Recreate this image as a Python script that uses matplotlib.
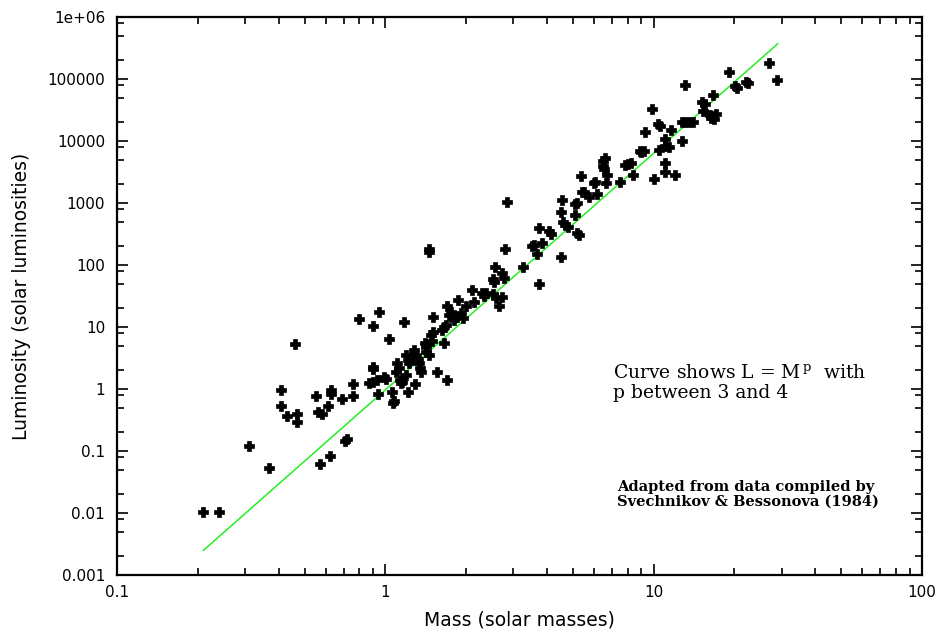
import matplotlib
matplotlib.use("Agg")
import matplotlib.pyplot as plt
from matplotlib.ticker import LogLocator, FixedLocator, FixedFormatter, NullFormatter

plt.rcParams["mathtext.fontset"] = "dejavuserif"

# Star data (solar units)
mass = [0.21, 0.24, 0.31, 0.37, 0.41, 0.41, 0.43, 0.47, 0.47, 0.46,
        0.55, 0.56, 0.58, 0.57, 0.62, 0.61, 0.63, 0.63, 0.69, 0.71,
        0.72, 0.76, 0.76, 0.80, 0.90, 0.95, 1.035, 1.17, 0.87, 0.90,
        0.90, 0.90, 0.93, 0.94, 0.99, 1.01, 1.06, 1.07, 1.08, 1.11,
        1.12, 1.10, 1.13, 1.15, 1.14, 1.21, 1.19, 1.21, 1.23, 1.19,
        1.25, 1.28, 1.30, 1.32, 1.29, 1.34, 1.35, 1.36, 1.40, 1.42,
        1.45, 1.42, 1.48, 1.50, 1.49, 1.51, 1.56, 1.70, 1.63, 1.66,
        1.68, 1.66, 1.70, 1.73, 1.75, 1.80, 1.83, 1.86, 1.91, 1.94,
        1.99, 2.10, 2.14, 2.30, 2.33, 2.37, 2.51, 2.54, 2.58, 2.65,
        2.73, 1.45, 1.46, 2.56, 2.52, 2.73, 2.77, 2.79, 2.85, 3.26,
        3.53, 3.58, 3.68, 3.73, 3.82, 3.73, 4.09, 4.14, 4.52, 4.52,
        4.55, 4.60, 4.68, 4.80, 5.11, 5.11, 5.19, 5.26, 5.19, 5.38,
        5.40, 5.50, 5.73, 5.98, 6.07, 6.15, 6.48, 6.52, 6.50, 6.60,
        6.70, 6.63, 7.52, 7.83, 8.0, 8.2, 8.35, 8.9, 9.0, 9.2,
        9.3, 9.9, 10.0, 10.4, 10.55, 11.0, 11.0, 11.0, 11.0, 10.5,
        11.6, 11.4, 12.0, 12.7, 12.7, 13.1, 13.6, 14.0, 13.1, 15.2,
        15.5, 15.3, 16.6, 16.2, 16.5, 16.8, 17.0, 16.4, 19.1, 20.1,
        20.4, 22.1, 22.4, 26.8, 28.8]
luminosity = [0.0103, 0.0103, 0.12, 0.053, 0.96, 0.54, 0.37, 0.40, 0.29, 5.3,
              0.76, 0.43, 0.39, 0.062, 0.083, 0.53, 0.95, 0.84, 0.70, 0.145,
              0.155, 1.2, 0.78, 13.3, 10.4, 17.7, 6.3, 12.2, 1.25, 1.31,
              2.29, 2.07, 1.42, 0.84, 1.58, 1.43, 0.90, 0.60, 0.63, 2.6,
              2.15, 1.9, 1.40, 1.31, 1.24, 0.90, 3.6, 2.94, 2.65, 1.68,
              3.3, 4.3, 3.5, 3.0, 1.2, 2.65, 2.15, 1.9, 5.45, 4.8,
              3.5, 4.0, 7.4, 8.4, 5.95, 14.7, 1.9, 1.42, 8.9, 10.1,
              10.8, 5.6, 21.5, 15.6, 17.6, 13.0, 14.7, 27.0, 16.6, 13.8,
              21.8, 40.0, 25.6, 35.0, 31.6, 35.0, 34.0, 54.0, 29.0, 21.8,
              30.0, 160.0, 178.0, 92.0, 59.0, 73.0, 61.0, 178.0, 1050.0, 92.0,
              200.0, 210.0, 150.0, 400.0, 225.0, 49.0, 360.0, 315.0, 133.0, 720.0,
              1120.0, 500.0, 450.0, 415.0, 640.0, 970.0, 1000.0, 310.0, 325.0, 2700.0,
              1520.0, 1480.0, 1250.0, 2100.0, 2200.0, 1420.0, 3900.0, 3600.0, 4800.0, 5300.0,
              2800.0, 2100.0, 2200.0, 4100.0, 4300.0, 4350.0, 2800.0, 7000.0, 6700.0, 7000.0,
              13800.0, 32500.0, 2400.0, 19000.0, 17300.0, 10600.0, 8200.0, 4400.0, 3200.0, 7200.0,
              15300.0, 8000.0, 2800.0, 10100.0, 20000.0, 20500.0, 20000.0, 20500.0, 80000.0, 43000.0,
              40000.0, 31000.0, 55000.0, 26000.0, 25000.0, 23000.0, 27000.0, 23500.0, 128000.0, 77000.0,
              72000.0, 90000.0, 86000.0, 183000.0, 98000.0]

# Power-law curve endpoints
curve_mass = [0.21, 29.0]
curve_lum = [0.0025, 370000.0]

x_ticks = [0.1, 1, 10, 100]
x_tick_labels = ["0.1", "1", "10", "100"]
y_ticks = [0.001, 0.01, 0.1, 1, 10, 100, 1000, 10000, 100000, 1000000]
y_tick_labels = ["0.001", "0.01", "0.1", "1", "10", "100", "1000", "10000", "100000", "1e+06"]

fig = plt.figure(figsize=(9.35, 6.32), dpi=100)
ax = fig.add_axes([117/935, 57/632, 805/935, 558/632])

ax.plot(curve_mass, curve_lum, color="#22ee22", lw=1.1, zorder=2)
ax.plot(mass, luminosity, linestyle="none", marker="P", ms=6.8, color="black",
        markeredgewidth=0.5, zorder=3)

ax.set_xscale("log")
ax.set_yscale("log")
ax.set_xlim(0.1, 100)
ax.set_ylim(0.001, 1e6)

ax.xaxis.set_major_locator(FixedLocator(x_ticks))
ax.xaxis.set_major_formatter(FixedFormatter(x_tick_labels))
ax.xaxis.set_minor_locator(LogLocator(base=10, subs=[2, 3, 4, 5, 6, 7, 8, 9], numticks=20))
ax.xaxis.set_minor_formatter(NullFormatter())
ax.yaxis.set_major_locator(FixedLocator(y_ticks))
ax.yaxis.set_major_formatter(FixedFormatter(y_tick_labels))
ax.yaxis.set_minor_locator(LogLocator(base=10, subs=[2, 5, 8], numticks=20))
ax.yaxis.set_minor_formatter(NullFormatter())

ax.tick_params(which="both", direction="in", top=True, right=True, color="black")
ax.tick_params(which="major", length=8, width=1.2, labelsize=11)
ax.tick_params(axis="y", which="major", pad=8.5)
ax.tick_params(axis="x", which="major", pad=7)
ax.tick_params(which="minor", length=5, width=1.2)
for lab in ax.get_xticklabels() + ax.get_yticklabels():
    lab.set_family("DejaVu Sans")
for s in ax.spines.values():
    s.set_linewidth(1.6)

ax.set_xlabel("Mass (solar masses)", family="DejaVu Sans", fontsize=13.5, labelpad=8)
ax.set_ylabel("Luminosity (solar luminosities)", family="DejaVu Sans", fontsize=13.5, labelpad=12)

ax.text(0.6165, 0.344, "Curve shows L = M$^{\\,\\mathrm{p}}$  with\np between 3 and 4",
        transform=ax.transAxes, family="DejaVu Serif", fontsize=13.5,
        va="center", ha="left", linespacing=1.2)
ax.text(0.6215, 0.145, "Adapted from data compiled by\nSvechnikov & Bessonova (1984)",
        transform=ax.transAxes, family="DejaVu Serif", fontsize=10.5, fontweight="bold",
        va="center", ha="left", linespacing=1.1)

fig.savefig("out.png", dpi=100)
